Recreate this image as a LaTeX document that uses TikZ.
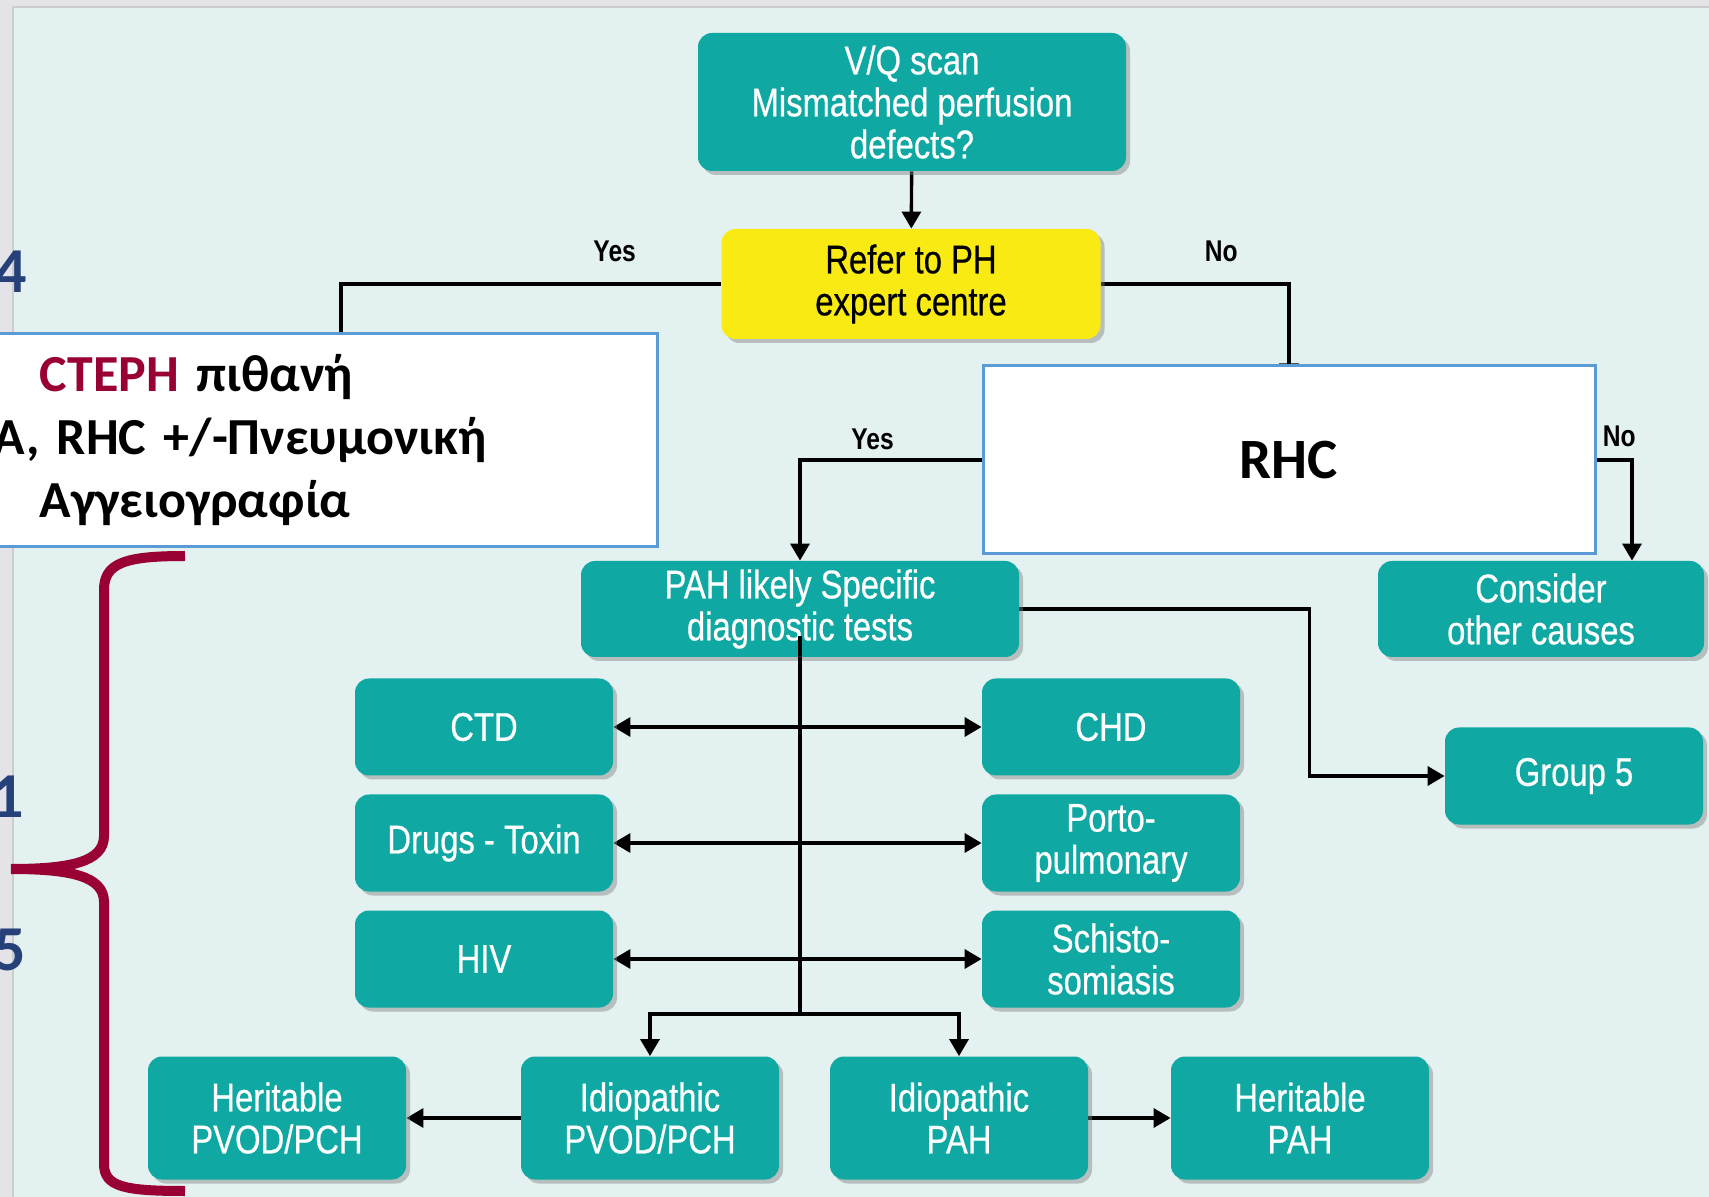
\documentclass[tikz,border=0pt]{standalone}
\usepackage{fontspec}
\setmainfont{Liberation Sans}
\newfontfamily\narrowfont[FakeStretch=0.82]{Liberation Sans}
\newfontfamily\boxtextfont[FakeStretch=0.82, FakeBold=0.5]{Liberation Sans}
\newfontfamily\calibrifont{Carlito}
\usetikzlibrary{arrows.meta, calc, shadows}

\definecolor{pagebg}{HTML}{E4F1F1}
\definecolor{boxteal}{HTML}{10A8A2}
\definecolor{referyellow}{HTML}{FAEA14}
\definecolor{framegray}{HTML}{E4E4E8}
\definecolor{ctephred}{HTML}{990033}
\definecolor{groupblue}{HTML}{26407A}
\definecolor{boxblue}{HTML}{5B9BD5}

\pgfdeclarelayer{back}
\pgfdeclarelayer{edges}
\pgfsetlayers{back,edges,main}

\begin{document}
\begin{tikzpicture}[
    x=0.5pt, y=-0.5pt,
    tealbox/.style={rectangle, rounded corners=7pt, fill=boxteal, text=white, align=center, inner sep=0pt, minimum width=129pt, minimum height=48.5pt, font=\boxtextfont\fontsize{20}{21}\selectfont, drop shadow={shadow xshift=2pt, shadow yshift=-2pt, opacity=0.45}},
    referbox/.style={tealbox, fill=referyellow, text=black},
    whitebox/.style={rectangle, fill=white, draw=boxblue, line width=1.5pt, inner sep=0pt, font=\calibrifont\bfseries},
    answer/.style={font=\narrowfont\bfseries\fontsize{15}{16}\selectfont, inner sep=0pt},
    groupnum/.style={font=\calibrifont\bfseries\fontsize{32}{36}\selectfont, text=groupblue, inner sep=0pt},
    line/.style={line width=1.7pt},
    arrow/.style={line, -{Triangle[length=8.5pt,width=9.5pt]}},
    twoway/.style={line, {Triangle[length=8.5pt,width=9.5pt]}-{Triangle[length=8.5pt,width=9.5pt]}},
    bracket/.style={line width=5pt, draw=ctephred}
]
\useasboundingbox (0,0) rectangle (1709,1197);

% page background
\begin{pgfonlayer}{back}
\fill[framegray] (0,0) rectangle (1709,1197);
\fill[pagebg] (14,8) rectangle (1709,1197);
\draw[gray!40, line width=1pt] (13,1197) -- (13,7) -- (1709,7);
\end{pgfonlayer}

% Nodes
\node (vq) [tealbox, minimum width=214pt, minimum height=69pt] at (912,102) {V/Q scan\\Mismatched perfusion\\defects?};
\node (refer) [referbox, minimum width=189.5pt, minimum height=55pt] at (911,284) {Refer to PH\\expert centre};

\node (cteph) [whitebox, minimum width=338.5pt, minimum height=106.5pt, text width=324.5pt, inner xsep=7pt, align=left, font=\calibrifont\bfseries\fontsize{26}{31.5}\selectfont] at (318.5,440.5) {\hspace*{23pt}\textcolor{ctephred}{CTEPH} πιθανή\\A, RHC +/-Πνευμονική\\\hspace*{23pt}Αγγειογραφία};
\coordinate (ctephtop) at (341,340);

\node (rhc) [whitebox, minimum width=306pt, minimum height=94pt, font=\calibrifont\bfseries\fontsize{28.5}{32}\selectfont] at (1289,460) {RHC};

\node (pah) [tealbox, minimum width=219pt, minimum height=48pt] at (800,609) {PAH likely Specific\\diagnostic tests};
\node (consider) [tealbox, minimum width=163pt, minimum height=48pt] at (1541,609) {Consider\\other causes};
\node (group5) [tealbox] at (1574,776) {Group 5};

\node (ctd) [tealbox] at (484,727) {CTD};
\node (chd) [tealbox] at (1111,727) {CHD};
\node (drugs) [tealbox] at (484,843) {Drugs - Toxin};
\node (porto) [tealbox] at (1111,843) {Porto-\\pulmonary};
\node (hiv) [tealbox] at (484,959) {HIV};
\node (schisto) [tealbox] at (1111,959) {Schisto-\\somiasis};

\node (hpvod) [tealbox, minimum height=61.5pt] at (277,1118) {Heritable\\PVOD/PCH};
\node (ipvod) [tealbox, minimum height=61.5pt] at (650,1118) {Idiopathic\\PVOD/PCH};
\node (ipah) [tealbox, minimum height=61.5pt] at (959,1118) {Idiopathic\\PAH};
\node (hpah) [tealbox, minimum height=61.5pt] at (1300,1118) {Heritable\\PAH};
\coordinate (split) at (800,1014);

% group numbers and bracket
\node (grp4) [groupnum, anchor=base east] at (27,293) {4};
\node (grp1) [groupnum, anchor=base east] at (24,817) {1};
\node (grp5) [groupnum, anchor=base east] at (26,970) {5};
\draw[bracket] (185,556) .. controls (125,556) and (104,563) .. (104,590) -- (104,836)
    .. controls (104,862) and (70,869) .. (11,869)
    .. controls (70,869) and (104,876) .. (104,902) -- (104,1164)
    .. controls (104,1187) and (125,1191) .. (185,1191);

% Arrows
\begin{pgfonlayer}{edges}
\draw[arrow] (vq) -- (refer);
\draw[line] (refer.west) -| node[answer, pos=0.14, yshift=16.5pt] {Yes} (ctephtop);
\draw[arrow] (refer.east) -| node[answer, pos=0.32, yshift=16.5pt] {No} ($(rhc.north)+(0,16)$);
\draw[arrow] (rhc.west) -| node[answer, pos=0.3, yshift=10.5pt] {Yes} (pah.north);
\draw[arrow] (rhc.east) -| node[answer, pos=0.32, yshift=12pt] {No} ($(consider.north)+(91,0)$);
\draw[arrow] (pah.east) -- ++(290,0) |- (group5.west);
\foreach \l/\r in {ctd/chd, drugs/porto, hiv/schisto}
    \draw[twoway] (\l.east) -- (\r.west);
\draw[arrow] (split) -| (ipvod);
\draw[arrow] (split) -| (ipah);
\draw[arrow] (ipvod) -- (hpvod);
\draw[arrow] (ipah) -- (hpah);
\end{pgfonlayer}
\draw[line] ($(pah.south)+(0,-21)$) -- (split);

\end{tikzpicture}
\end{document}
